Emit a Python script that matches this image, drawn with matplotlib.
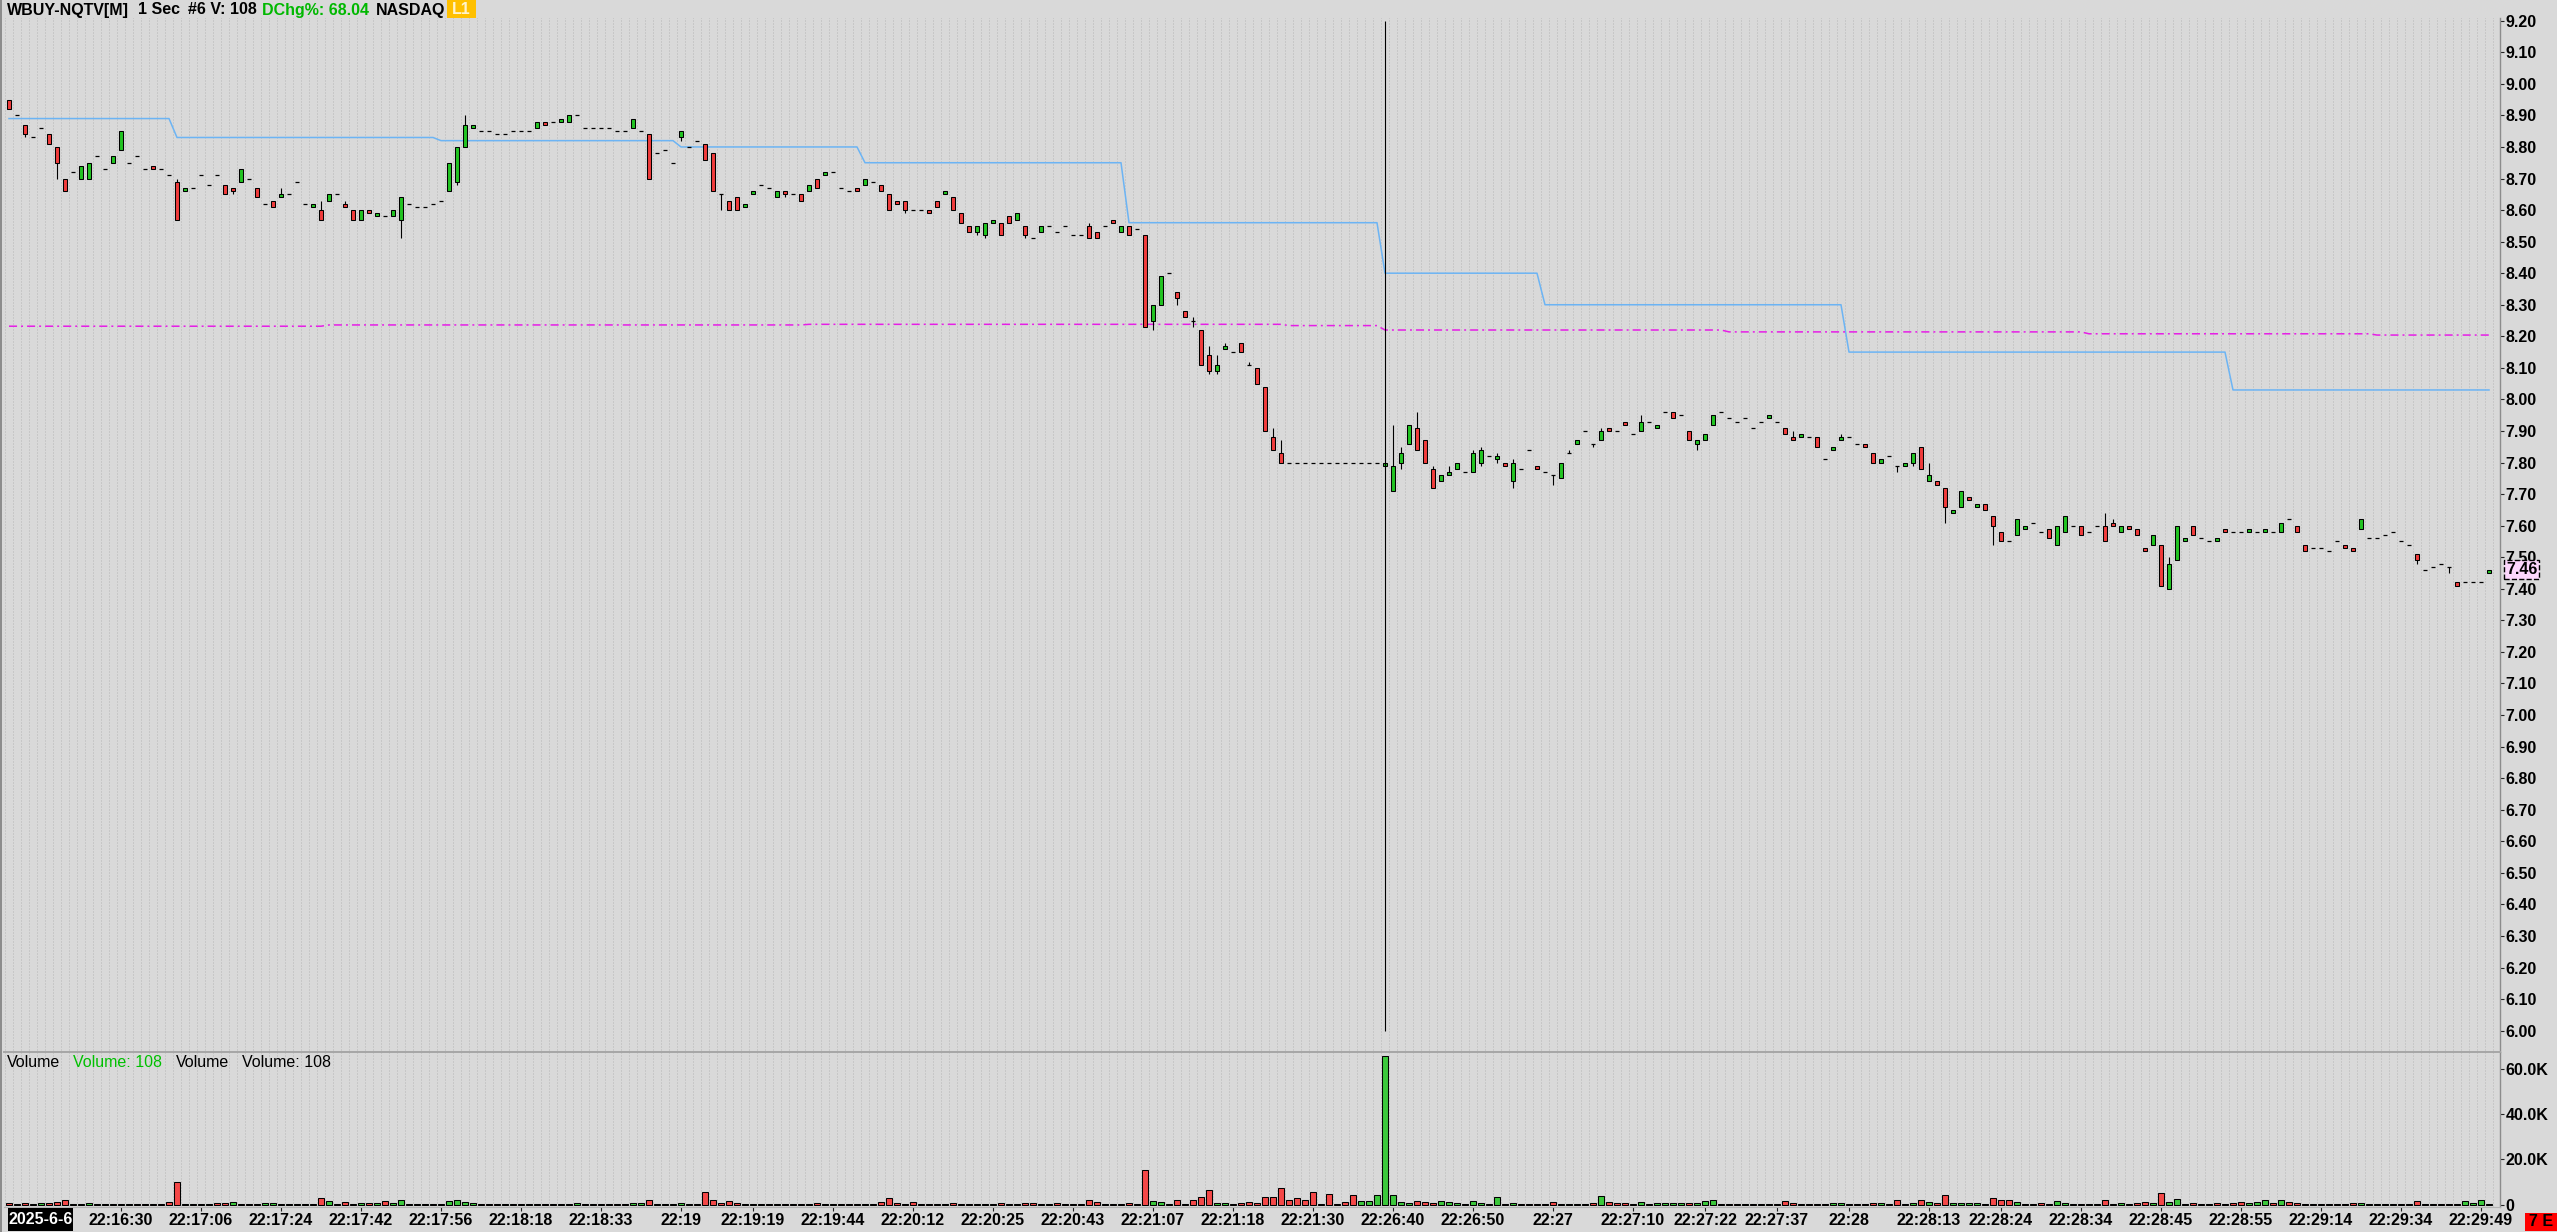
import numpy as np
import matplotlib
matplotlib.use("Agg")
import matplotlib.pyplot as plt
from matplotlib.lines import Line2D
from matplotlib.patches import Rectangle
from matplotlib.ticker import MultipleLocator, FixedLocator, FuncFormatter

plt.rcParams["font.family"] = ["Liberation Sans", "DejaVu Sans"]
plt.rcParams["lines.scale_dashes"] = False

W, H, DPI = 2557, 1232, 100

# 1-second bars, WBUY (one bar per slot, no gaps)
OPEN = [
    8.95, 8.90, 8.87, 8.83, 8.86, 8.84, 8.80, 8.70, 8.72, 8.70,
    8.70, 8.77, 8.73, 8.75, 8.79, 8.75, 8.77, 8.73, 8.74, 8.73,
    8.71, 8.69, 8.66, 8.67, 8.71, 8.68, 8.71, 8.68, 8.67, 8.69,
    8.70, 8.67, 8.62, 8.63, 8.64, 8.65, 8.69, 8.62, 8.61, 8.60,
    8.63, 8.65, 8.62, 8.60, 8.57, 8.60, 8.58, 8.58, 8.58, 8.57,
    8.62, 8.61, 8.61, 8.62, 8.63, 8.66, 8.69, 8.80, 8.86, 8.85,
    8.85, 8.84, 8.84, 8.85, 8.85, 8.85, 8.86, 8.88, 8.88, 8.88,
    8.88, 8.90, 8.86, 8.86, 8.86, 8.86, 8.85, 8.85, 8.86, 8.85,
    8.84, 8.78, 8.79, 8.75, 8.83, 8.80, 8.82, 8.81, 8.78, 8.65,
    8.63, 8.64, 8.61, 8.65, 8.68, 8.67, 8.64, 8.66, 8.65, 8.65,
    8.66, 8.70, 8.71, 8.72, 8.67, 8.66, 8.67, 8.68, 8.69, 8.68,
    8.65, 8.63, 8.63, 8.60, 8.60, 8.60, 8.63, 8.65, 8.64, 8.59,
    8.55, 8.53, 8.52, 8.56, 8.56, 8.58, 8.57, 8.55, 8.51, 8.53,
    8.55, 8.53, 8.55, 8.52, 8.52, 8.55, 8.53, 8.55, 8.57, 8.53,
    8.55, 8.54, 8.52, 8.25, 8.30, 8.40, 8.34, 8.28, 8.25, 8.22,
    8.14, 8.09, 8.16, 8.15, 8.18, 8.11, 8.10, 8.04, 7.88, 7.83,
    7.80, 7.80, 7.80, 7.80, 7.80, 7.80, 7.80, 7.80, 7.80, 7.80,
    7.80, 7.80, 7.79, 7.71, 7.80, 7.86, 7.91, 7.87, 7.78, 7.74,
    7.76, 7.78, 7.77, 7.77, 7.80, 7.82, 7.81, 7.80, 7.74, 7.78,
    7.84, 7.79, 7.77, 7.76, 7.75, 7.83, 7.86, 7.90, 7.86, 7.87,
    7.91, 7.90, 7.93, 7.89, 7.90, 7.93, 7.91, 7.96, 7.96, 7.95,
    7.90, 7.86, 7.87, 7.92, 7.96, 7.94, 7.93, 7.94, 7.91, 7.93,
    7.94, 7.93, 7.91, 7.88, 7.88, 7.88, 7.88, 7.81, 7.84, 7.87,
    7.88, 7.86, 7.86, 7.83, 7.80, 7.82, 7.79, 7.79, 7.80, 7.85,
    7.74, 7.74, 7.72, 7.64, 7.66, 7.69, 7.66, 7.67, 7.63, 7.58,
    7.55, 7.57, 7.59, 7.61, 7.58, 7.59, 7.54, 7.58, 7.60, 7.60,
    7.58, 7.60, 7.60, 7.61, 7.58, 7.60, 7.59, 7.53, 7.54, 7.54,
    7.40, 7.49, 7.55, 7.60, 7.56, 7.55, 7.55, 7.59, 7.58, 7.58,
    7.58, 7.58, 7.58, 7.58, 7.58, 7.62, 7.60, 7.54, 7.53, 7.53,
    7.52, 7.55, 7.54, 7.53, 7.59, 7.56, 7.56, 7.57, 7.58, 7.55,
    7.54, 7.51, 7.46, 7.47, 7.48, 7.47, 7.42, 7.42, 7.42, 7.42, 7.45,
]
HIGH = [
    8.95, 8.90, 8.87, 8.83, 8.86, 8.84, 8.80, 8.70, 8.72, 8.74,
    8.75, 8.77, 8.73, 8.77, 8.85, 8.75, 8.77, 8.73, 8.74, 8.73,
    8.71, 8.70, 8.67, 8.67, 8.71, 8.68, 8.71, 8.68, 8.67, 8.73,
    8.70, 8.67, 8.62, 8.63, 8.67, 8.65, 8.69, 8.62, 8.62, 8.63,
    8.65, 8.65, 8.63, 8.60, 8.60, 8.60, 8.59, 8.58, 8.60, 8.64,
    8.62, 8.61, 8.61, 8.62, 8.63, 8.75, 8.80, 8.90, 8.87, 8.85,
    8.85, 8.84, 8.84, 8.85, 8.85, 8.85, 8.88, 8.88, 8.88, 8.89,
    8.90, 8.90, 8.86, 8.86, 8.86, 8.86, 8.85, 8.85, 8.89, 8.85,
    8.84, 8.78, 8.79, 8.75, 8.85, 8.80, 8.82, 8.81, 8.78, 8.65,
    8.63, 8.64, 8.62, 8.66, 8.68, 8.67, 8.66, 8.66, 8.65, 8.65,
    8.68, 8.70, 8.72, 8.72, 8.67, 8.66, 8.67, 8.70, 8.69, 8.68,
    8.65, 8.63, 8.63, 8.60, 8.60, 8.60, 8.63, 8.66, 8.64, 8.59,
    8.55, 8.55, 8.56, 8.57, 8.56, 8.58, 8.59, 8.55, 8.51, 8.55,
    8.55, 8.53, 8.55, 8.52, 8.52, 8.56, 8.53, 8.55, 8.57, 8.55,
    8.55, 8.54, 8.52, 8.30, 8.39, 8.40, 8.34, 8.28, 8.26, 8.22,
    8.17, 8.14, 8.18, 8.15, 8.18, 8.12, 8.10, 8.04, 7.91, 7.87,
    7.80, 7.80, 7.80, 7.80, 7.80, 7.80, 7.80, 7.80, 7.80, 7.80,
    7.80, 7.80, 7.80, 7.92, 7.85, 7.92, 7.96, 7.87, 7.79, 7.76,
    7.79, 7.80, 7.77, 7.84, 7.85, 7.82, 7.83, 7.80, 7.81, 7.78,
    7.84, 7.79, 7.77, 7.76, 7.80, 7.84, 7.87, 7.90, 7.86, 7.91,
    7.91, 7.90, 7.93, 7.89, 7.95, 7.93, 7.92, 7.96, 7.96, 7.95,
    7.90, 7.87, 7.89, 7.95, 7.96, 7.94, 7.93, 7.94, 7.91, 7.93,
    7.95, 7.93, 7.91, 7.90, 7.89, 7.88, 7.88, 7.81, 7.85, 7.89,
    7.88, 7.86, 7.86, 7.83, 7.81, 7.82, 7.79, 7.80, 7.83, 7.85,
    7.80, 7.74, 7.72, 7.65, 7.71, 7.69, 7.67, 7.67, 7.63, 7.58,
    7.55, 7.62, 7.60, 7.61, 7.58, 7.59, 7.60, 7.63, 7.60, 7.60,
    7.58, 7.60, 7.64, 7.62, 7.60, 7.60, 7.59, 7.53, 7.57, 7.54,
    7.50, 7.60, 7.56, 7.60, 7.56, 7.55, 7.56, 7.59, 7.58, 7.58,
    7.59, 7.58, 7.59, 7.58, 7.61, 7.62, 7.60, 7.54, 7.53, 7.53,
    7.52, 7.55, 7.54, 7.53, 7.62, 7.56, 7.56, 7.57, 7.58, 7.55,
    7.54, 7.51, 7.46, 7.47, 7.48, 7.47, 7.42, 7.42, 7.42, 7.42, 7.46,
]
LOW = [
    8.92, 8.90, 8.83, 8.83, 8.86, 8.81, 8.70, 8.66, 8.72, 8.70,
    8.70, 8.77, 8.73, 8.75, 8.79, 8.75, 8.77, 8.73, 8.73, 8.73,
    8.71, 8.57, 8.66, 8.67, 8.71, 8.68, 8.71, 8.65, 8.65, 8.69,
    8.70, 8.64, 8.62, 8.61, 8.64, 8.65, 8.69, 8.62, 8.61, 8.57,
    8.63, 8.65, 8.61, 8.57, 8.57, 8.59, 8.58, 8.58, 8.58, 8.51,
    8.62, 8.61, 8.61, 8.62, 8.63, 8.66, 8.68, 8.80, 8.86, 8.85,
    8.85, 8.84, 8.84, 8.85, 8.85, 8.85, 8.86, 8.87, 8.88, 8.88,
    8.88, 8.90, 8.86, 8.86, 8.86, 8.86, 8.85, 8.85, 8.86, 8.85,
    8.70, 8.78, 8.79, 8.75, 8.82, 8.80, 8.82, 8.76, 8.66, 8.60,
    8.60, 8.60, 8.61, 8.65, 8.68, 8.67, 8.64, 8.64, 8.65, 8.63,
    8.66, 8.67, 8.71, 8.72, 8.67, 8.66, 8.66, 8.68, 8.69, 8.66,
    8.60, 8.62, 8.59, 8.60, 8.60, 8.59, 8.61, 8.65, 8.60, 8.56,
    8.53, 8.52, 8.51, 8.56, 8.52, 8.56, 8.57, 8.51, 8.51, 8.53,
    8.55, 8.53, 8.55, 8.52, 8.52, 8.51, 8.51, 8.55, 8.56, 8.53,
    8.52, 8.54, 8.23, 8.22, 8.30, 8.40, 8.30, 8.26, 8.23, 8.11,
    8.08, 8.08, 8.16, 8.15, 8.15, 8.11, 8.05, 7.90, 7.84, 7.80,
    7.80, 7.80, 7.80, 7.80, 7.80, 7.80, 7.80, 7.80, 7.80, 7.80,
    7.80, 7.80, 7.79, 7.71, 7.78, 7.86, 7.84, 7.80, 7.72, 7.74,
    7.76, 7.78, 7.77, 7.77, 7.79, 7.82, 7.80, 7.79, 7.72, 7.78,
    7.84, 7.78, 7.77, 7.73, 7.75, 7.83, 7.86, 7.90, 7.85, 7.87,
    7.90, 7.90, 7.92, 7.89, 7.90, 7.93, 7.91, 7.96, 7.94, 7.95,
    7.87, 7.84, 7.87, 7.92, 7.96, 7.94, 7.93, 7.94, 7.91, 7.93,
    7.94, 7.93, 7.89, 7.87, 7.88, 7.88, 7.85, 7.81, 7.84, 7.87,
    7.88, 7.86, 7.85, 7.80, 7.80, 7.82, 7.77, 7.79, 7.79, 7.78,
    7.74, 7.73, 7.61, 7.64, 7.66, 7.68, 7.66, 7.65, 7.54, 7.55,
    7.55, 7.57, 7.59, 7.61, 7.58, 7.56, 7.54, 7.58, 7.60, 7.57,
    7.58, 7.60, 7.55, 7.60, 7.58, 7.59, 7.57, 7.52, 7.54, 7.41,
    7.40, 7.49, 7.55, 7.57, 7.56, 7.55, 7.55, 7.58, 7.58, 7.58,
    7.58, 7.58, 7.58, 7.58, 7.58, 7.62, 7.58, 7.52, 7.53, 7.53,
    7.52, 7.55, 7.53, 7.52, 7.59, 7.56, 7.56, 7.57, 7.58, 7.55,
    7.54, 7.48, 7.46, 7.47, 7.48, 7.45, 7.41, 7.42, 7.42, 7.42, 7.45,
]
CLOSE = [
    8.92, 8.90, 8.84, 8.83, 8.86, 8.81, 8.75, 8.66, 8.72, 8.74,
    8.75, 8.77, 8.73, 8.77, 8.85, 8.75, 8.77, 8.73, 8.73, 8.73,
    8.71, 8.57, 8.67, 8.67, 8.71, 8.68, 8.71, 8.65, 8.66, 8.73,
    8.70, 8.64, 8.62, 8.61, 8.65, 8.65, 8.69, 8.62, 8.62, 8.57,
    8.65, 8.65, 8.61, 8.57, 8.60, 8.59, 8.59, 8.58, 8.60, 8.64,
    8.62, 8.61, 8.61, 8.62, 8.63, 8.75, 8.80, 8.87, 8.87, 8.85,
    8.85, 8.84, 8.84, 8.85, 8.85, 8.85, 8.88, 8.87, 8.88, 8.89,
    8.90, 8.90, 8.86, 8.86, 8.86, 8.86, 8.85, 8.85, 8.89, 8.85,
    8.70, 8.78, 8.79, 8.75, 8.85, 8.80, 8.82, 8.76, 8.66, 8.65,
    8.60, 8.60, 8.62, 8.66, 8.68, 8.67, 8.66, 8.65, 8.65, 8.63,
    8.68, 8.67, 8.72, 8.72, 8.67, 8.66, 8.66, 8.70, 8.69, 8.66,
    8.60, 8.62, 8.60, 8.60, 8.60, 8.59, 8.61, 8.66, 8.60, 8.56,
    8.53, 8.55, 8.56, 8.57, 8.52, 8.56, 8.59, 8.52, 8.51, 8.55,
    8.55, 8.53, 8.55, 8.52, 8.52, 8.51, 8.51, 8.55, 8.56, 8.55,
    8.52, 8.54, 8.23, 8.30, 8.39, 8.40, 8.32, 8.26, 8.25, 8.11,
    8.09, 8.11, 8.17, 8.15, 8.15, 8.11, 8.05, 7.90, 7.84, 7.80,
    7.80, 7.80, 7.80, 7.80, 7.80, 7.80, 7.80, 7.80, 7.80, 7.80,
    7.80, 7.80, 7.80, 7.79, 7.83, 7.92, 7.84, 7.80, 7.72, 7.76,
    7.77, 7.80, 7.77, 7.83, 7.84, 7.82, 7.82, 7.79, 7.80, 7.78,
    7.84, 7.78, 7.77, 7.76, 7.80, 7.83, 7.87, 7.90, 7.86, 7.90,
    7.90, 7.90, 7.92, 7.89, 7.93, 7.93, 7.92, 7.96, 7.94, 7.95,
    7.87, 7.87, 7.89, 7.95, 7.96, 7.94, 7.93, 7.94, 7.91, 7.93,
    7.95, 7.93, 7.89, 7.87, 7.89, 7.88, 7.85, 7.81, 7.85, 7.88,
    7.88, 7.86, 7.85, 7.80, 7.81, 7.82, 7.79, 7.80, 7.83, 7.78,
    7.76, 7.73, 7.66, 7.65, 7.71, 7.68, 7.67, 7.65, 7.60, 7.55,
    7.55, 7.62, 7.60, 7.61, 7.58, 7.56, 7.60, 7.63, 7.60, 7.57,
    7.58, 7.60, 7.55, 7.60, 7.60, 7.59, 7.57, 7.52, 7.57, 7.41,
    7.48, 7.60, 7.56, 7.57, 7.56, 7.55, 7.56, 7.58, 7.58, 7.58,
    7.59, 7.58, 7.59, 7.58, 7.61, 7.62, 7.58, 7.52, 7.53, 7.53,
    7.52, 7.55, 7.53, 7.52, 7.62, 7.56, 7.56, 7.57, 7.58, 7.55,
    7.54, 7.49, 7.46, 7.47, 7.48, 7.47, 7.41, 7.42, 7.42, 7.42, 7.46,
]
VOLUME = [
    700, 400, 700, 400, 700, 700, 1300, 2000, 400, 400,
    700, 400, 400, 400, 400, 400, 400, 400, 400, 400,
    900, 9800, 400, 400, 400, 400, 700, 700, 900, 400,
    400, 400, 700, 700, 400, 400, 400, 400, 400, 2700,
    1600, 400, 900, 400, 700, 700, 700, 1500, 700, 2100,
    400, 400, 400, 400, 400, 1600, 2000, 1000, 700, 400,
    400, 400, 400, 400, 400, 400, 400, 400, 400, 400,
    400, 700, 400, 400, 400, 400, 400, 400, 700, 700,
    1900, 400, 400, 400, 700, 400, 400, 5400, 2200, 700,
    1400, 700, 400, 400, 400, 400, 400, 400, 400, 400,
    400, 700, 400, 400, 400, 400, 400, 400, 400, 900,
    3000, 700, 400, 1300, 400, 400, 400, 400, 700, 400,
    400, 400, 400, 400, 700, 400, 400, 700, 700, 400,
    400, 700, 400, 400, 400, 2200, 1000, 400, 400, 400,
    700, 400, 15200, 1400, 1000, 400, 1800, 400, 2200, 3500,
    6200, 700, 700, 400, 700, 1000, 700, 3500, 3500, 7100,
    1900, 3000, 2200, 5400, 400, 4800, 400, 1000, 4100, 1400,
    1400, 4100, 65600, 4400, 1000, 700, 1400, 1000, 700, 1400,
    1000, 700, 400, 1400, 700, 400, 3300, 400, 700, 400,
    400, 400, 400, 1000, 400, 400, 400, 400, 700, 3800,
    1000, 700, 700, 400, 1000, 400, 700, 700, 700, 700,
    700, 700, 1400, 2000, 400, 400, 400, 400, 400, 400,
    400, 400, 1500, 700, 400, 400, 400, 400, 700, 700,
    400, 400, 400, 700, 700, 400, 2000, 400, 700, 2000,
    1000, 700, 4000, 700, 700, 700, 700, 400, 3000, 2000,
    2000, 1000, 400, 400, 700, 400, 1400, 700, 400, 400,
    400, 400, 2000, 400, 700, 400, 700, 1000, 700, 5300,
    1000, 2300, 400, 700, 400, 400, 700, 400, 700, 1000,
    700, 1000, 2000, 700, 2000, 1000, 700, 400, 400, 400,
    400, 400, 400, 700, 700, 400, 400, 400, 400, 400,
    400, 1400, 400, 400, 400, 400, 400, 1400, 700, 2000, 400,
]
# volume bar colour per bar: g = up tick, r = down tick
VOL_DIR = (
    "rrrrgrrrgg" "ggggggrrrr" "rrggggrrgr" "rrgggggggr" "ggrrgrgrgg"
    "gggggggggr" "rrgggggrrg" "ggrrrrrrgg" "rgggggrrrr" "rrgggrgrrr"
    "grggrrrggr" "rrrrrrrgrr" "rgggrrgrrg" "grrrrrrgrg" "rgrgggrrrr"
    "rggrrrrrrr" "rrrrrrrrrg" "ggggggrrrg" "gggggggrgr" "rrrrggggrg"
    "rrrrgrgggg" "rggggrrgrg" "grrrgrrrgg" "rrrrgrrrgr" "grrggggrrr"
    "rgrgrggggr" "ggrrgrrrgr" "gggrrgrrrr" "gggrgrrrrr" "rrrrgggggr"
    "rrrrrrrgggg"
)

# blue stepped level line and magenta dash-dot average line
BLUE_LEVELS = [8.89, 8.83, 8.82, 8.80, 8.75, 8.56, 8.40, 8.30, 8.15, 8.03]
BLUE_STARTS = [0, 21, 54, 84, 107, 140, 172, 192, 230, 278]
MAG_LEVELS = [8.232, 8.236, 8.238, 8.234, 8.220, 8.214, 8.208, 8.204]
MAG_STARTS = [0, 40, 100, 160, 172, 215, 260, 296]

HALT_BAR = 172
LAST_PRICE = 7.46

TICK_BARS = [14, 24, 34, 44, 54, 64, 74, 84, 93, 103, 113, 123, 133, 143, 153,
             163, 173, 183, 193, 203, 212, 221, 230, 240, 249, 259, 269, 279,
             289, 299, 309]
TICK_LABELS = ["22:16:30", "22:17:06", "22:17:24", "22:17:42", "22:17:56",
               "22:18:18", "22:18:33", "22:19", "22:19:19", "22:19:44",
               "22:20:12", "22:20:25", "22:20:43", "22:21:07", "22:21:18",
               "22:21:30", "22:26:40", "22:26:50", "22:27", "22:27:10",
               "22:27:22", "22:27:37", "22:28", "22:28:13", "22:28:24",
               "22:28:34", "22:28:45", "22:28:55", "22:29:14", "22:29:34",
               "22:29:49"]
VOL_TICKS = [0, 20000, 40000, 60000]

BG = "#d9d9d9"
RED = "#f03c3c"
GREEN = "#22c422"
VRED = "#f44848"
VGREEN = "#3cc83c"
GRID = "#b6b6b6"
AXIS_GRAY = "#8c8c8c"
FS = 11.5


def fx(px):
    return px / W


def fy(py):
    return 1 - py / H


def steps(levels, starts, n):
    counts = np.diff(list(starts) + [n])
    return np.repeat(levels, counts)


def style_axis(ax):
    ax.set_facecolor(BG)
    for side in ("top", "left", "bottom"):
        ax.spines[side].set_visible(False)
    ax.spines["right"].set_color(AXIS_GRAY)
    ax.spines["right"].set_linewidth(1.0)
    ax.yaxis.tick_right()
    ax.tick_params(axis="y", direction="out", length=3, width=0.8,
                   color="#222222", pad=1.0, labelsize=FS)
    for lab in ax.get_yticklabels():
        lab.set_fontweight("bold")


def main():
    o = np.array(OPEN)
    h = np.array(HIGH)
    lo = np.array(LOW)
    c = np.array(CLOSE)
    v = np.array(VOLUME)
    n = len(o)
    x = np.arange(n)

    fig = plt.figure(figsize=(W / DPI, H / DPI), dpi=DPI, facecolor=BG)
    left, right = fx(4), fx(2500)
    ax_p = fig.add_axes([left, fy(1052), right - left, (1052 - 18) / H])
    ax_v = fig.add_axes([left, fy(1207), right - left, (1207 - 1052) / H])
    xlim = (-0.625, n + 0.375)

    # ---------- price pane ----------
    style_axis(ax_p)
    ax_p.set_xlim(*xlim)
    ax_p.set_ylim(5.9323, 9.2086)
    ax_p.set_xticks([])
    ax_p.yaxis.set_major_locator(MultipleLocator(0.10))
    ax_p.yaxis.set_major_formatter(FuncFormatter(lambda val, _: f"{val:.2f}"))
    for lab in ax_p.get_yticklabels():
        lab.set_fontweight("bold")

    grid_x = np.arange(-1, n) + 0.5
    ax_p.vlines(grid_x, 5.9, 9.3, colors=GRID, linewidth=0.72,
                linestyles=[(0, (0.72, 1.44))], zorder=0)

    up = c > o + 1e-9
    dn = c < o - 1e-9
    flat = ~(up | dn)
    wick = (h > np.maximum(o, c) + 1e-9) | (lo < np.minimum(o, c) - 1e-9)

    ax_p.vlines(x[wick], lo[wick], h[wick], colors="black", linewidth=0.8, zorder=2)
    bottom = np.minimum(o, c)
    height = np.abs(c - o)
    ax_p.bar(x[up], height[up], bottom=bottom[up], width=0.5, color=GREEN,
             edgecolor="black", linewidth=0.75, zorder=3)
    ax_p.bar(x[dn], height[dn], bottom=bottom[dn], width=0.5, color=RED,
             edgecolor="black", linewidth=0.75, zorder=3)
    ax_p.hlines(c[flat], x[flat] - 0.3, x[flat] + 0.3, colors="black",
                linewidth=0.9, zorder=3)

    ax_p.plot(x, steps(BLUE_LEVELS, BLUE_STARTS, n), color="#6cb4f4",
              linewidth=1.1, zorder=1.5)
    ax_p.plot(x, steps(MAG_LEVELS, MAG_STARTS, n), color="#e61ee6",
              linewidth=1.1, linestyle=(0, (5.8, 2.9, 1.4, 2.9)), zorder=1.5)

    ax_p.vlines(HALT_BAR, 6.00, 9.20, colors="black", linewidth=0.8, zorder=4)

    ax_p.annotate(f"{LAST_PRICE:.2f}", xy=(1, LAST_PRICE),
                  xycoords=("axes fraction", "data"),
                  xytext=(6, 0), textcoords="offset pixels",
                  ha="left", va="center", fontsize=FS, fontweight="bold",
                  color="black", annotation_clip=False, zorder=10,
                  bbox=dict(boxstyle="square,pad=0.12", fc="#fcd6fc",
                            ec="black", ls="--", lw=1.0))

    # ---------- volume pane ----------
    style_axis(ax_v)
    ax_v.spines["top"].set_visible(True)
    ax_v.spines["top"].set_color("#a6a6a6")
    ax_v.spines["top"].set_linewidth(1.4)
    ax_v.spines["bottom"].set_visible(True)
    ax_v.spines["bottom"].set_color("#b4b4b4")
    ax_v.set_xlim(*xlim)
    ax_v.set_ylim(-1100, 67330)
    ax_v.vlines(grid_x, -2000, 70000, colors=GRID, linewidth=0.72,
                linestyles=[(0, (0.72, 1.44))], zorder=0)
    vcol = [VGREEN if d == "g" else VRED for d in VOL_DIR]
    ax_v.bar(x, v, width=0.85, color=vcol, edgecolor="black",
             linewidth=0.75, zorder=3)
    ax_v.yaxis.set_major_locator(FixedLocator(VOL_TICKS))
    ax_v.yaxis.set_major_formatter(
        FuncFormatter(lambda val, _: "0" if val == 0 else f"{val / 1000:.1f}K"))
    for lab in ax_v.get_yticklabels():
        lab.set_fontweight("bold")
    ax_v.set_xticks(TICK_BARS)
    ax_v.set_xticklabels(TICK_LABELS, fontsize=FS, fontweight="bold")
    ax_v.tick_params(axis="x", direction="out", length=3, width=0.8,
                     color="#222222", pad=1.5)

    # ---------- header texts ----------
    base = fy(14.5)
    heads = [(7, "WBUY-NQTV[M]", "black"), (138, "1 Sec", "black"),
             (188, "#6 V: 108", "black"), (262, "DChg%: 68.04", "#00b800"),
             (376, "NASDAQ", "black")]
    for px, txt, col in heads:
        fig.text(fx(px), base, txt, ha="left", va="baseline", fontsize=FS,
                 fontweight="bold", color=col)
    fig.patches.append(Rectangle((fx(447), fy(18)), (476 - 447) / W, 18 / H,
                                 transform=fig.transFigure, fc="#ffc000",
                                 ec="none", zorder=5))
    fig.text(fx(461.5), base, "L1", ha="center", va="baseline", fontsize=FS,
             fontweight="bold", color="#fff4cc", zorder=6)

    vbase = fy(1067)
    vheads = [(7, "Volume", "black"), (73, "Volume: 108", "#00c000"),
              (176, "Volume", "black"), (242, "Volume: 108", "black")]
    for px, txt, col in vheads:
        fig.text(fx(px), vbase, txt, ha="left", va="baseline", fontsize=FS,
                 color=col)

    # date box, bottom left
    fig.patches.append(Rectangle((fx(8), fy(1231)), (73 - 8) / W, 23 / H,
                                 transform=fig.transFigure, fc="black",
                                 ec="none", zorder=5))
    fig.text(fx(40.5), fy(1220), "2025-6-6", ha="center", va="center",
             fontsize=FS, fontweight="bold", color="white", zorder=6)
    # red status box, bottom right
    fig.patches.append(Rectangle((fx(2525), fy(1231)), 32 / W, 18 / H,
                                 transform=fig.transFigure, fc="#ff0000",
                                 ec="none", zorder=5))
    fig.text(fx(2541), fy(1222), "7 E", ha="center", va="center",
             fontsize=FS, fontweight="bold", color="black", zorder=6)

    # left window border
    fig.add_artist(Line2D([fx(1), fx(1)], [0, 1], transform=fig.transFigure,
                          color="#8a8a8a", linewidth=1.4))

    fig.savefig("out.png", dpi=DPI, facecolor=BG)
    plt.close(fig)


if __name__ == "__main__":
    main()
